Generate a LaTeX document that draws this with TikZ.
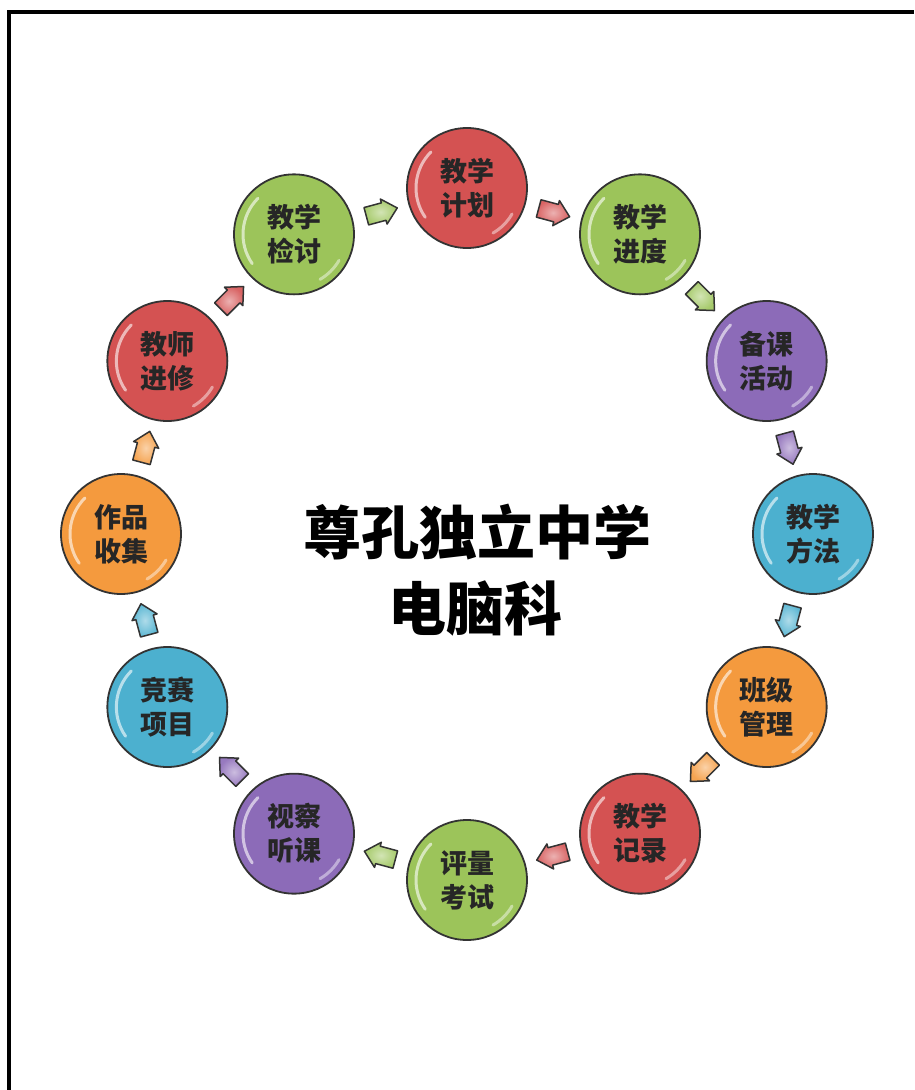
\documentclass[tikz,border=0pt]{standalone}
\usepackage{fontspec}
\newfontfamily\cjk{Noto Sans CJK SC}
\definecolor{cred}{HTML}{D45252}
\definecolor{cgreen}{HTML}{9CC45A}
\definecolor{cpurple}{HTML}{8C6BB8}
\definecolor{cblue}{HTML}{4CB0CF}
\definecolor{corange}{HTML}{F49A3E}
\begin{document}
\begin{tikzpicture}[x=1pt,y=1pt,
  ball/.style={circle, draw=black!80, line width=1.8pt, minimum size=120pt, inner sep=0pt, align=center,
    font=\cjk\bfseries\fontsize{27}{34}\selectfont, text=black!85},
  flowarrow/.style={draw=black!80, line width=1.5pt, line join=round},
  gloss/.style={white, opacity=.6, line width=3pt, line cap=round},
  titletext/.style={font=\cjk\bfseries\fontsize{58}{60}\selectfont, text=black}]
\useasboundingbox (0,0) rectangle (914,-1090);
\draw[line width=4.5pt] (9,-1090) -- (9,-12) -- (914,-12);
\foreach \i/\col/\txt in {0/cred/{教学\\计划}, 1/cgreen/{教学\\进度}, 2/cpurple/{备课\\活动}, 3/cblue/{教学\\方法},
  4/corange/{班级\\管理}, 5/cred/{教学\\记录}, 6/cgreen/{评量\\考试}, 7/cpurple/{视察\\听课},
  8/cblue/{竞赛\\项目}, 9/corange/{作品\\收集}, 10/cred/{教师\\进修}, 11/cgreen/{教学\\检讨}}{
  \path ({467+346*sin(\i*30)},{-534+346*cos(\i*30)}) node[ball, fill=\col] (c\i) {\txt};
  \draw[gloss] (c\i.center) ++(135:51) arc[start angle=135, end angle=215, radius=51];
  \draw[gloss, opacity=.45] (c\i.center) ++(300:52) arc[start angle=300, end angle=330, radius=52];
  \coordinate (a\i) at ({467+333*sin(\i*30+15)},{-534+333*cos(\i*30+15)});
  \shade[flowarrow, inner color=\col!45!white, outer color=\col!90!white, shift={(a\i)}, rotate={-(\i*30+15)}]
    (-15,-9) -- (3,-9) -- (3,-13) -- (17,0) -- (3,13) -- (3,9) -- (-15,9) -- cycle;
}
\node[titletext] (t1) at (477,-532) {尊孔独立中学};
\node[titletext] (t2) at (475,-608) {电脑科};
\end{tikzpicture}
\end{document}
